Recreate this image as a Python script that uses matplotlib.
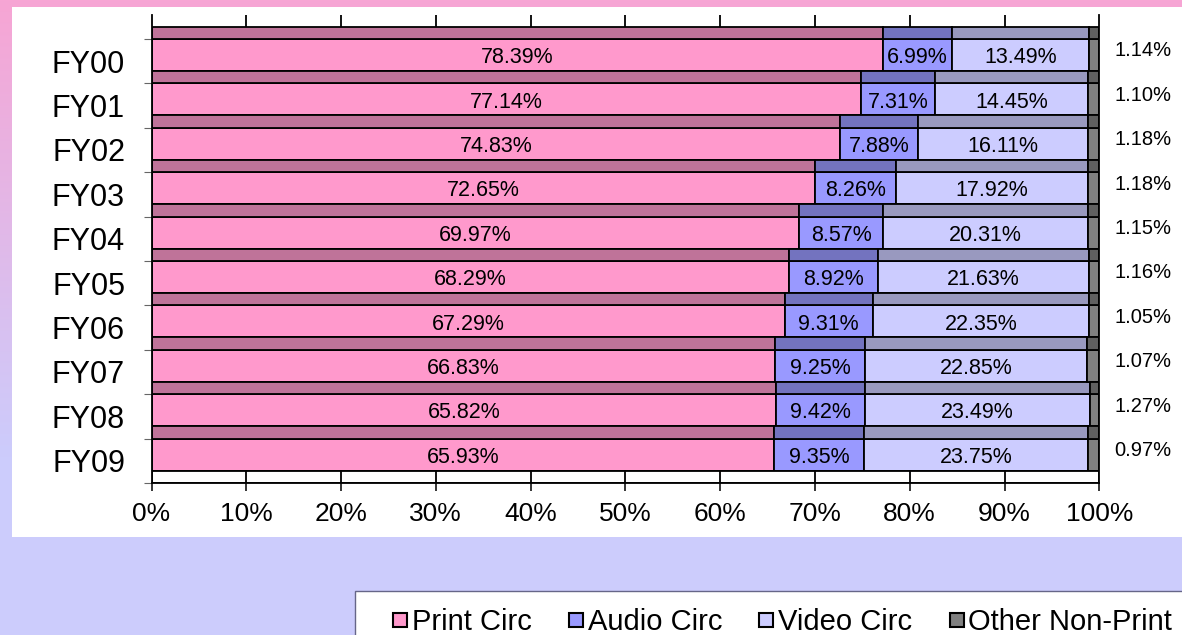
import numpy as np
import matplotlib
matplotlib.use('Agg')
import matplotlib.pyplot as plt
from matplotlib.patches import Rectangle

plt.rcParams['font.family'] = ['Liberation Sans', 'DejaVu Sans']

years = ['FY00', 'FY01', 'FY02', 'FY03', 'FY04', 'FY05', 'FY06', 'FY07', 'FY08', 'FY09']
print_circ = [78.39, 77.14, 74.83, 72.65, 69.97, 68.29, 67.29, 66.83, 65.82, 65.93]
audio_circ = [6.99, 7.31, 7.88, 8.26, 8.57, 8.92, 9.31, 9.25, 9.42, 9.35]
video_circ = [13.49, 14.45, 16.11, 17.92, 20.31, 21.63, 22.35, 22.85, 23.49, 23.75]
other_np = [1.14, 1.10, 1.18, 1.18, 1.15, 1.16, 1.05, 1.07, 1.27, 0.97]
# the bars in the picture sit one row below their labels; the bottom bar has no label
last_bar = [65.71, 9.46, 23.61, 1.22]
series = ['Print Circ', 'Audio Circ', 'Video Circ', 'Other Non-Print']

front = ['#FF99CC', '#9999FF', '#CCCCFF', '#808080']
top = ['#BF7399', '#7373BF', '#9999BF', '#606060']

W, H = 1182, 635
fig = plt.figure(figsize=(W / 100, H / 100), dpi=100)

# background gradient pink -> lavender
bg = fig.add_axes([0, 0, 1, 1], zorder=-10)
t = np.clip(np.linspace(0, 1, H) / 0.72, 0, 1)[:, None]
c0 = np.array([247, 165, 212]) / 255
c1 = np.array([204, 204, 252]) / 255
grad = (c0 * (1 - t) + c1 * t)[:, None, :]
bg.imshow(grad, aspect='auto', extent=[0, 1, 0, 1])
bg.axis('off')

# white chart panel and legend box
fig.patches.append(Rectangle((12 / W, (H - 537) / H), 1.0, (537 - 7) / H,
                             transform=fig.transFigure, facecolor='white',
                             edgecolor='none', zorder=-5))
fig.patches.append(Rectangle((355 / W, -0.01), 1.0, (H - 591) / H + 0.01,
                             transform=fig.transFigure, facecolor='white',
                             edgecolor='#666688', linewidth=1, zorder=-5))

x0, x1, ytop, ybot = 151.5, 1099.3, 15, 483
ax = fig.add_axes([x0 / W, (H - ybot) / H, (x1 - x0) / W, (ybot - ytop) / H])
ax.set_facecolor('none')

rows = np.arange(len(years))
bars = np.array([print_circ[1:] + [last_bar[0]],
                 audio_circ[1:] + [last_bar[1]],
                 video_circ[1:] + [last_bar[2]],
                 other_np[1:] + [last_bar[3]]])
lefts = np.vstack([np.zeros(len(years)), np.cumsum(bars, axis=0)[:-1]])

for j in range(4):
    ax.barh(rows, bars[j], left=lefts[j], height=0.72, align='edge',
            color=front[j], edgecolor='black', linewidth=1.3)
    ax.barh(rows - 0.28, bars[j], left=lefts[j], height=0.28, align='edge',
            color=top[j], edgecolor='black', linewidth=1.3)

label_vals = [print_circ, audio_circ, video_circ]
for j in range(3):
    for i in rows:
        ax.text(lefts[j][i] + bars[j][i] / 2, i + 0.42, f'{label_vals[j][i]:.2f}%',
                ha='center', va='center', fontsize=15.5)
for i in rows:
    ax.text(104.6, i + 0.27, f'{other_np[i]:.2f}%', ha='center', va='center',
            fontsize=14.5, clip_on=False)

# floor strip
ax.add_patch(Rectangle((0, 9.72), 100, 0.28, facecolor='white',
                       edgecolor='black', linewidth=1.3))
ticks = np.arange(0, 101, 10)
ax.vlines(ticks[1:-1], 9.72, 10, color='black', linewidth=1.3)
# top tick marks on the back wall
ax.vlines(ticks[1:-1], -0.54, -0.28, color='black', linewidth=1.3, clip_on=False)

ax.set_xlim(0, 100)
ax.set_ylim(10, -0.54)

ax.set_xticks(ticks)
ax.set_xticklabels([f'{v}%' for v in ticks])
ax.tick_params(axis='x', direction='out', length=6, width=1.1, labelsize=19, pad=8)

ax.set_yticks(np.arange(0, 11))
ax.set_yticklabels([])
ax.set_yticks(rows + 0.5, minor=True)
ax.set_yticklabels(years, minor=True)
ax.tick_params(axis='y', which='major', direction='out', length=6, width=0.8, color='#666666')
ax.tick_params(axis='y', which='minor', length=0, pad=19, labelsize=22)

for s in ['left', 'right', 'bottom']:
    ax.spines[s].set_color('black')
    ax.spines[s].set_linewidth(1.3)
ax.spines['top'].set_visible(False)

# legend
renderer = fig.canvas.get_renderer()
x = 393
for name, col in zip(series, front):
    fig.patches.append(Rectangle((x / W, (H - 627) / H), 14 / W, 14 / H,
                                 transform=fig.transFigure, facecolor=col,
                                 edgecolor='black', linewidth=1.5))
    txt = fig.text((x + 19) / W, (H - 630) / H, name, fontsize=21, va='baseline')
    bb = txt.get_window_extent(renderer)
    x = bb.x1 + 37

fig.savefig('out.png', dpi=100)
